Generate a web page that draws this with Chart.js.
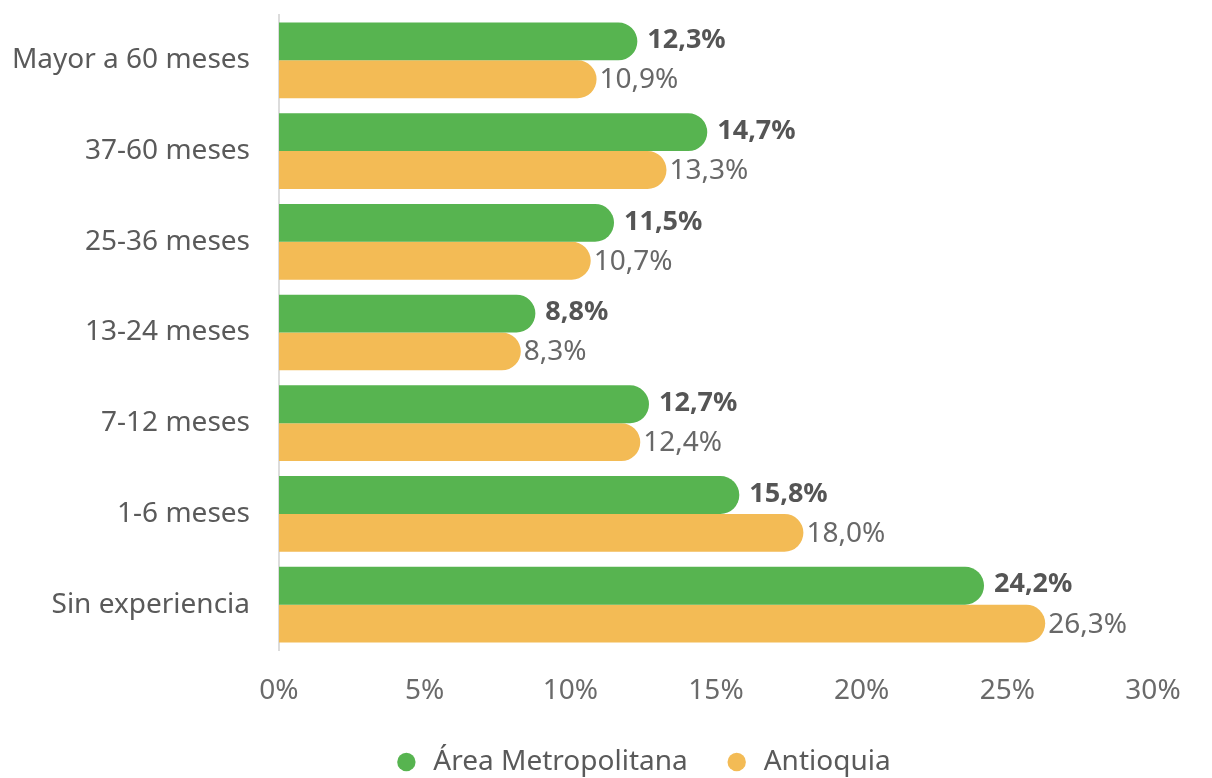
<!DOCTYPE html>
<html>
<head>
<meta charset="utf-8">
<script src="https://cdn.jsdelivr.net/npm/chart.js@4/dist/chart.umd.min.js"></script>
<style>
  html, body { margin: 0; padding: 0; background: #ffffff; }
  #wrap { width: 1212px; height: 778px; }
</style>
</head>
<body>
<div id="wrap"><canvas id="chart" width="1212" height="778"></canvas></div>
<script>
// Experiencia laboral: distribución por tiempo
const categories = ['Mayor a 60 meses', '37-60 meses', '25-36 meses', '13-24 meses', '7-12 meses', '1-6 meses', 'Sin experiencia'];
const areaMetropolitana = [12.3, 14.7, 11.5, 8.8, 12.7, 15.8, 24.2];
const antioquia = [10.9, 13.3, 10.7, 8.3, 12.4, 18.0, 26.3];
const xTicks = [0, 5, 10, 15, 20, 25, 30];
const seriesNames = ['Área Metropolitana', 'Antioquia'];

const GREEN = '#57b450';
const ORANGE = '#f3bb55';
const FONT = "'Noto Sans', 'Open Sans', sans-serif";

const fmt = v => v.toFixed(1).replace('.', ',') + '%';

// Writes each bar's value just past its rounded end
const valueLabels = {
  id: 'valueLabels',
  afterDatasetsDraw(chart) {
    const ctx = chart.ctx;
    ctx.save();
    ctx.textBaseline = 'middle';
    ctx.textAlign = 'left';
    chart.data.datasets.forEach((ds, di) => {
      const meta = chart.getDatasetMeta(di);
      meta.data.forEach((bar, i) => {
        const bold = di === 0;
        ctx.font = (bold ? 'bold 27px ' : '28px ') + FONT;
        ctx.fillStyle = bold ? '#555555' : '#686868';
        ctx.fillText(fmt(ds.data[i]), bar.x + (bold ? 10 : 3), bar.y + (bold ? -1 : 1));
      });
    });
    ctx.restore();
  }
};

// Centres the legend row under the plot area rather than the whole canvas
const legendShift = {
  id: 'legendShift',
  afterLayout(chart) {
    const lg = chart.legend;
    if (!lg) return;
    const dx = 36;
    lg.left += dx;
    lg.right += dx;
  }
};

new Chart(document.getElementById('chart'), {
  type: 'bar',
  data: {
    labels: categories,
    datasets: [
      { label: seriesNames[0], data: areaMetropolitana, backgroundColor: GREEN, borderRadius: 19, borderSkipped: 'start' },
      { label: seriesNames[1], data: antioquia, backgroundColor: ORANGE, borderRadius: 19, borderSkipped: 'start' }
    ]
  },
  options: {
    indexAxis: 'y',
    responsive: false,
    animation: false,
    devicePixelRatio: 1,
    layout: { padding: { top: 15, right: 0, bottom: 0, left: 0 } },
    categoryPercentage: 0.835,
    barPercentage: 1.0,
    scales: {
      y: {
        grid: { display: false },
        border: { display: true, color: '#dcdcdc', width: 2 },
        ticks: { color: '#5a5a5a', font: { family: FONT, size: 28 }, padding: 21 },
        afterFit(scale) {
          scale.width = 279;
          scale.paddingTop = 0;
          scale.paddingBottom = 0;
        }
      },
      x: {
        min: 0,
        max: 30,
        grid: { display: false, drawTicks: false },
        border: { display: false },
        afterBuildTicks(scale) { scale.ticks = xTicks.map(v => ({ value: v })); },
        ticks: {
          color: '#6a6a6a',
          font: { family: FONT, size: 28 },
          padding: 24,
          callback: v => v + '%'
        },
        afterFit(scale) {
          scale.height = 62;
          scale.paddingLeft = 0;
          scale.paddingRight = 59;
        }
      }
    },
    plugins: {
      legend: {
        position: 'bottom',
        maxHeight: 66,
        labels: {
          usePointStyle: true,
          pointStyle: 'circle',
          boxWidth: 26,
          boxHeight: 13,
          padding: 36,
          color: '#5a5a5a',
          font: { family: FONT, size: 28 }
        }
      },
      tooltip: { enabled: false }
    }
  },
  plugins: [valueLabels, legendShift]
});
</script>
</body>
</html>
